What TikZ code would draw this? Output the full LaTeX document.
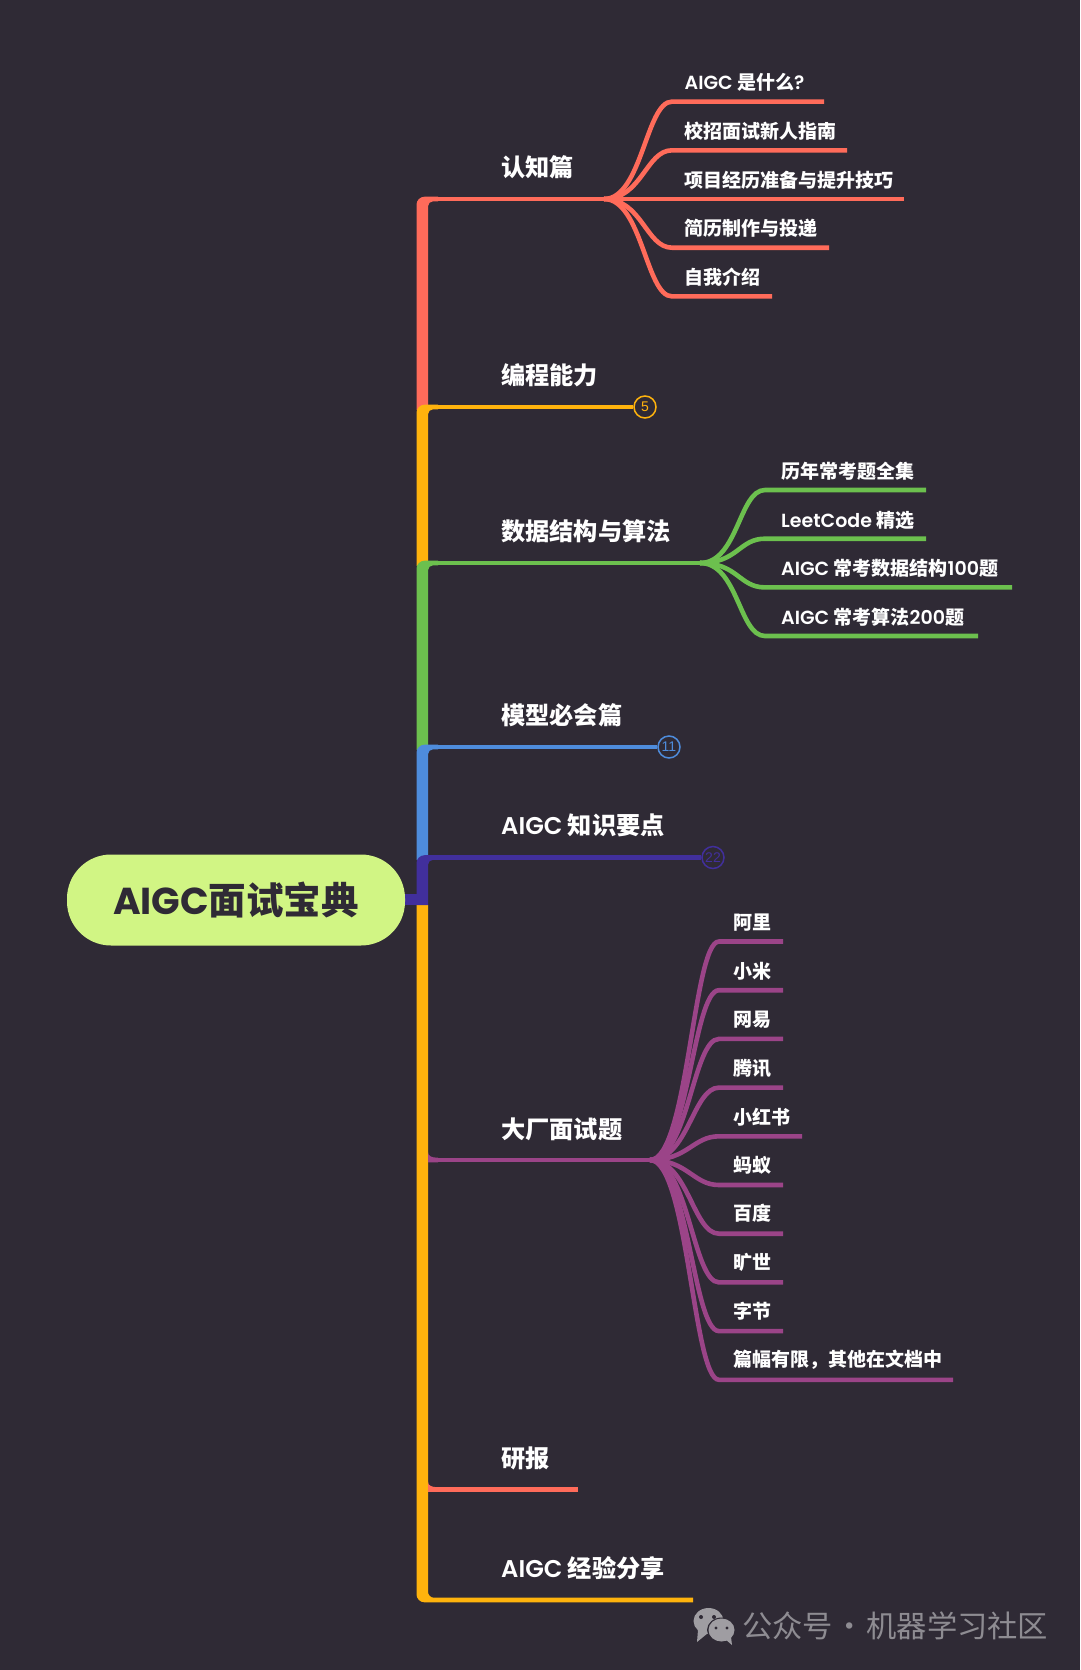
\documentclass[tikz,border=0pt]{standalone}
\usepackage{fontspec}
\setmainfont{Noto Sans CJK SC}
\newfontfamily\latfont{Poppins SemiBold}[BoldFont={Poppins SemiBold}]
\newfontfamily\rootfont{Poppins}
\newfontfamily\numfont{Liberation Sans}
\newcommand{\lat}[1]{{\latfont #1}}
\definecolor{inkbg}{HTML}{2F2A35}
\definecolor{rootgreen}{HTML}{D1F584}
\definecolor{coral}{HTML}{FF6B5A}
\definecolor{amber}{HTML}{FFB30D}
\definecolor{leafgreen}{HTML}{6CC04E}
\definecolor{skyblue}{HTML}{4E8CDC}
\definecolor{indigo}{HTML}{412F9C}
\definecolor{plum}{HTML}{9B4488}
\definecolor{markgray}{HTML}{8E8C92}
\newcommand{\twig}[3]{\draw[limb,#1] (#2fork) .. controls +(38,0) and +(-26,0) .. (#2bend |- #3) -- (#3);}
\newcommand{\stem}[3]{\fill[#1] (416.5,#3) [rounded corners=8pt] -- (416.5,#2-2.3) [sharp corners] -- (438,#2-2.3) -- (438,#2+2.3) [rounded corners=5pt] -- (428,#2+2.3) [sharp corners] -- (428,#3) -- cycle;}
\newcommand{\flare}[2]{\fill[#1] (428,#2-8) .. controls (428,#2-4) and (431,#2-2.3) .. (438,#2-2.3) -- (438,#2+2.3) -- (428,#2+2.3) -- cycle;}
\begin{document}
\begin{tikzpicture}[x=1pt,y=-1pt,
  limb/.style={line width=4.6pt},
  topic/.style={anchor=west,text=white,inner sep=0pt,font=\fontsize{24.2}{28}\selectfont\bfseries},
  leaf/.style={anchor=west,text=white,inner sep=0pt,font=\fontsize{19}{23}\selectfont\bfseries},
  badge/.style={circle,draw,line width=1.5pt,fill=inkbg,minimum size=22pt,inner sep=0pt,font=\fontsize{14}{16}\selectfont\numfont}]
\fill[inkbg] (0,0) rectangle (1080,1670);
\useasboundingbox (0,0) rectangle (1080,1670);

% trunk, top to bottom
\coordinate (cogfork) at (604,199);
\coordinate (cogbend) at (672,199);
\coordinate (algofork) at (700,563);
\coordinate (algobend) at (765,563);
\coordinate (corpfork) at (650,1160);
\coordinate (corpbend) at (719,1160);

\stem{coral}{199}{410}
\draw[limb,coral] (438,199) -- (cogfork);
\node[topic] (cog) at (501,167) {认知篇};
\node[leaf] (cog1) at (684.5,82) {\lat{AIGC} 是什么\lat{?}};
\node[leaf] (cog2) at (684.5,131) {校招面试新人指南};
\node[leaf] (cog3) at (684.5,180) {项目经历准备与提升技巧};
\node[leaf] (cog4) at (684.5,228) {简历制作与投递};
\node[leaf] (cog5) at (684.5,277) {自我介绍};
\coordinate (cog1end) at (824,101.6);
\coordinate (cog2end) at (847,150.3);
\coordinate (cog3end) at (904,199);
\coordinate (cog4end) at (829,247.7);
\coordinate (cog5end) at (772,296.4);
\twig{coral}{cog}{cog1end}
\twig{coral}{cog}{cog2end}
\twig{coral}{cog}{cog3end}
\twig{coral}{cog}{cog4end}
\twig{coral}{cog}{cog5end}

\stem{amber}{407}{566}
\node[topic] (code) at (501,375) {编程能力};
\node[badge,draw=amber,text=amber] (codemark) at (645,407) {5};
\draw[limb,amber] (438,407) -- (codemark);

\stem{leafgreen}{563}{750}
\draw[limb,leafgreen] (438,563) -- (algofork);
\node[topic] (algo) at (501,531) {数据结构与算法};
\node[leaf] (algo1) at (781,471) {历年常考题全集};
\node[leaf] (algo2) at (781,520) {\lat{LeetCode} 精选};
\node[leaf] (algo3) at (781,568) {\lat{AIGC} 常考数据结构\lat{100}题};
\node[leaf] (algo4) at (781,617) {\lat{AIGC} 常考算法\lat{200}题};
\coordinate (algo1end) at (926,490);
\coordinate (algo2end) at (926,538.7);
\coordinate (algo3end) at (1012,587.4);
\coordinate (algo4end) at (978,636);
\twig{leafgreen}{algo}{algo1end}
\twig{leafgreen}{algo}{algo2end}
\twig{leafgreen}{algo}{algo3end}
\twig{leafgreen}{algo}{algo4end}

\stem{skyblue}{747}{860}
\node[topic] (model) at (501,715) {模型必会篇};
\node[badge,draw=skyblue,text=skyblue] (modelmark) at (669,747) {11};
\draw[limb,skyblue] (438,747) -- (modelmark);

% last trunk piece runs on to the bottom
\fill[amber] (428,905) -- (416.5,905) [rounded corners=8pt] -- (416.5,1602.3) [sharp corners] -- (693,1602.3) -- (693,1597.7) [rounded corners=6pt] -- (428,1597.7) [sharp corners] -- cycle;

\stem{indigo}{857.5}{905}
\fill[indigo] (400,894) rectangle (428,905);
\node[topic] (know) at (501,825) {\lat{AIGC} 知识要点};
\node[badge,draw=indigo,text=indigo] (knowmark) at (713,857.5) {22};
\draw[limb,indigo] (438,857.5) -- (knowmark);

\flare{plum}{1160}
\draw[limb,plum] (438,1160) -- (corpfork);
\node[topic] (corp) at (501,1129) {大厂面试题};
\node[leaf] (corp1) at (733,922.5) {阿里};
\node[leaf] (corp2) at (733,971) {小米};
\node[leaf] (corp3) at (733,1019.5) {网易};
\node[leaf] (corp4) at (733,1068) {腾讯};
\node[leaf] (corp5) at (733,1117) {小红书};
\node[leaf] (corp6) at (733,1165) {蚂蚁};
\node[leaf] (corp7) at (733,1213.5) {百度};
\node[leaf] (corp8) at (733,1262.5) {旷世};
\node[leaf] (corp9) at (733,1311) {字节};
\node[leaf] (corp10) at (733,1360) {篇幅有限，其他在文档中};
\coordinate (corp1end) at (783,941.5);
\coordinate (corp2end) at (783,990.2);
\coordinate (corp3end) at (783,1038.9);
\coordinate (corp4end) at (783,1087.6);
\coordinate (corp5end) at (802,1136.3);
\coordinate (corp6end) at (783,1185);
\coordinate (corp7end) at (783,1233.7);
\coordinate (corp8end) at (783,1282.4);
\coordinate (corp9end) at (783,1331.1);
\coordinate (corp10end) at (953,1379.8);
\twig{plum}{corp}{corp1end}
\twig{plum}{corp}{corp2end}
\twig{plum}{corp}{corp3end}
\twig{plum}{corp}{corp4end}
\twig{plum}{corp}{corp5end}
\twig{plum}{corp}{corp6end}
\twig{plum}{corp}{corp7end}
\twig{plum}{corp}{corp8end}
\twig{plum}{corp}{corp9end}
\twig{plum}{corp}{corp10end}

\flare{coral}{1489.5}
\coordinate (reportstart) at (438,1489.5);
\coordinate (reportend) at (578,1489.5);
\draw[limb,coral] (reportstart) -- (reportend);
\node[topic] (report) at (501,1458) {研报};
\node[topic] (share) at (501,1568) {\lat{AIGC} 经验分享};

\node[fill=rootgreen,rounded corners=44pt,minimum width=338pt,minimum height=91pt,inner sep=0pt,text=inkbg,font=\fontsize{37.5}{42}\selectfont\bfseries,text depth=3pt] (root) at (236,900) {{\rootfont AIGC}面试宝典};

% watermark
\fill[markgray!85!white] (708.5,1621) ellipse (15pt and 13pt);
\fill[markgray!85!white] (698,1630) -- (697,1642) -- (708,1633) -- cycle;
\fill[inkbg] (701,1617) circle (2pt) (714,1617) circle (2pt);
\fill[inkbg] (721.5,1630) ellipse (14.5pt and 12.5pt);
\fill[markgray!85!white] (721.5,1630) ellipse (13pt and 11.5pt);
\fill[markgray!85!white] (725,1639) -- (732,1645) -- (731,1637) -- cycle;
\fill[inkbg] (716,1628) circle (1.7pt) (727,1628) circle (1.7pt);
\node[anchor=west,inner sep=0pt,text=markgray,font=\fontsize{30.3}{34}\selectfont] (mark) at (742,1626) {公众号\kern1.5pt·\kern1.5pt机器学习社区};
\end{tikzpicture}
\end{document}
